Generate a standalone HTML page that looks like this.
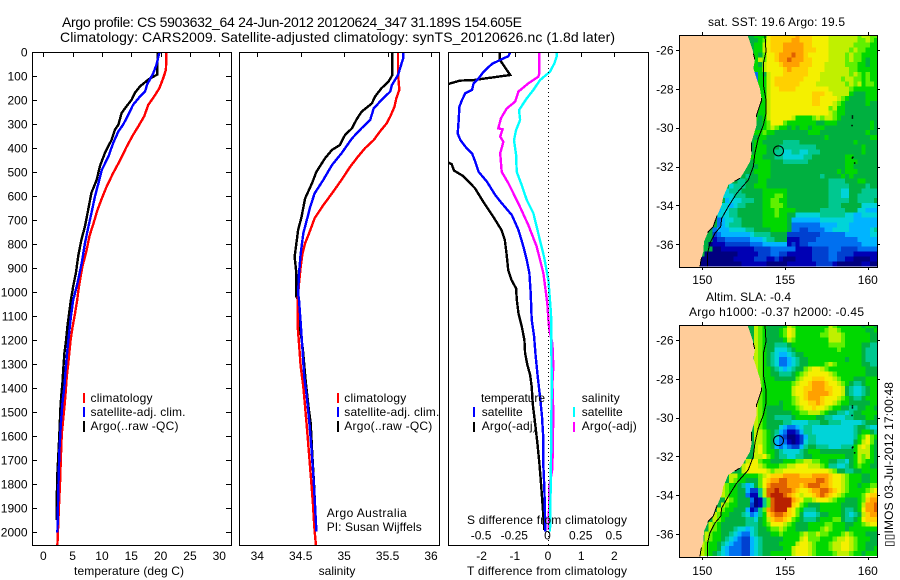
<!DOCTYPE html>
<html lang="en">
<head>
<meta charset="utf-8">
<title>Argo profile</title>
<style>
html,body{margin:0;padding:0;background:#fff}
svg{display:block;font-family:"Liberation Sans",sans-serif;font-size:12px;fill:#000}
text{fill:#000}
</style>
</head>
<body>
<svg id="figure" xmlns="http://www.w3.org/2000/svg" width="900" height="580" viewBox="0 0 900 580">
<defs>
<clipPath id="clip-temp"><rect x="32" y="52" width="200" height="493"/></clipPath>
<clipPath id="clip-sal"><rect x="239" y="52" width="201" height="493"/></clipPath>
<clipPath id="clip-diff"><rect x="448" y="52" width="201" height="493"/></clipPath>
<clipPath id="clip-map1"><rect x="679" y="35" width="198" height="232"/></clipPath>
<clipPath id="clip-map2"><rect x="679" y="325" width="198" height="232"/></clipPath>
</defs>
<rect width="900" height="580" fill="#fff"/>
<g id="plots"></g>
<text x="62" y="27" font-size="14" textLength="460">Argo profile: CS 5903632_64 24-Jun-2012 20120624_347 31.189S 154.605E</text>
<text x="60" y="42" font-size="14" textLength="555">Climatology: CARS2009. Satellite-adjusted climatology: synTS_20120626.nc (1.8d later)</text>
<text x="129" y="575" text-anchor="middle" textLength="110">temperature (deg C)</text>
<text x="337" y="575" text-anchor="middle">salinity</text>
<text x="547" y="575" text-anchor="middle" textLength="160">T difference from climatology</text>
<text x="547" y="524" text-anchor="middle" textLength="160">S difference from climatology</text>
<g>
<rect x="83" y="393" width="2" height="10" fill="#f00"/>
<rect x="83" y="407" width="2" height="10" fill="#00f"/>
<rect x="83" y="421" width="2" height="11" fill="#000"/>
<text x="90.5" y="402" textLength="62">climatology</text>
<text x="90.5" y="416" textLength="95">satellite-adj. clim.</text>
<text x="90.5" y="430" textLength="88">Argo(..raw -QC)</text>
</g>
<g>
<rect x="337" y="393" width="2" height="10" fill="#f00"/>
<rect x="337" y="407" width="2" height="10" fill="#00f"/>
<rect x="337" y="421" width="2" height="11" fill="#000"/>
<text x="344.3" y="402" textLength="62">climatology</text>
<text x="344.3" y="416" textLength="95">satellite-adj. clim.</text>
<text x="344.3" y="430" textLength="88">Argo(..raw -QC)</text>
<text x="326.7" y="517" textLength="80">Argo Australia</text>
<text x="326.7" y="531" textLength="95">PI: Susan Wijffels</text>
</g>
<g>
<text x="481" y="402" textLength="64">temperature</text>
<rect x="473" y="407" width="2" height="10" fill="#00f"/>
<rect x="473" y="422" width="2" height="10" fill="#000"/>
<text x="481.7" y="416" textLength="41">satellite</text>
<text x="481.7" y="430" textLength="55">Argo(-adj)</text>
<text x="581.7" y="402" textLength="38">salinity</text>
<rect x="573" y="407" width="2" height="10" fill="#0ff"/>
<rect x="573" y="422" width="2" height="10" fill="#f0f"/>
<text x="581.7" y="416" textLength="41">satellite</text>
<text x="581.7" y="430" textLength="55">Argo(-adj)</text>
</g>
<text x="776.5" y="26" text-anchor="middle" textLength="137">sat. SST: 19.6 Argo: 19.5</text>
<text x="748.5" y="301" text-anchor="middle" textLength="85">Altim. SLA: -0.4</text>
<text x="776.5" y="316" text-anchor="middle" textLength="175">Argo h1000: -0.37 h2000: -0.45</text>
<text transform="translate(893,547) rotate(-90)" textLength="165" style="font-family:'Liberation Sans','DejaVu Sans',sans-serif">▯▯IMOS 03-Jul-2012 17:00:48</text>
</svg>
<script>
// ---------- depth axis ----------
const depthTicks = [0,100,200,300,400,500,600,700,800,900,1000,1100,1200,1300,1400,1500,1600,1700,1800,1900,2000];
// ---------- temperature panel ----------
const tempTicks = [0,5,10,15,20,25,30];
const tempClimDepth = [0,75,108,150,185,220,268,310,345,395,450,505,560,615,660,710,765,835,890,950,990,1030,1090,1145,1200,1300,1350,1420,1480,1530,1590,1685,1800,1850,1960,2054];
const tempClimValues = [21,20.9,20.45,19.8,18.9,17.9,17.2,16.2,15.3,14.2,13.1,11.9,10.8,9.9,9.2,8.6,7.9,7.3,6.7,6.25,6,5.8,5.4,5,4.65,4.25,4,3.8,3.6,3.4,3.15,3,2.85,2.75,2.55,2.4];
const tempSatDepth = [0,53,88,108,136,164,185,220,261,303,331,380,436,492,547,603,672,726,796,879,949,990,1033,1103,1172,1240,1325,1395,1450,1547,1658,1825,2003];
const tempSatValues = [19.8,19.3,18.75,18.3,17.7,17.35,16.5,15.3,14.5,13.6,12.8,11.9,11.1,9.95,9.4,8.8,8.2,7.7,7.1,6.55,5.95,5.55,5.1,4.7,4.4,4.1,3.8,3.6,3.3,3,2.75,2.55,2.4];
const tempArgoDepth = [0,94,115,143,171,199,226,254,303,324,365,421,476,532,587,657,726,782,851,921,976,992,1033,1089,1144,1207,1255,1325,1380,1436,1492,1561,1658,1755,1853,1950];
const tempArgoValues = [19.5,19.4,17.9,16.5,15.6,15.05,14.2,13.35,12.8,12.2,11.65,10.5,9.65,9.1,8.2,7.65,7.1,6.5,5.95,5.55,5.1,5,4.7,4.4,4.1,3.85,3.6,3.4,3.25,3.05,2.9,2.8,2.6,2.4,2.3,2.3];
// ---------- salinity panel ----------
const salTicks = [34,34.5,35,35.5,36];
const salClimDepth = [0,89,158,193,228,269,297,332,367,401,436,478,533,589,638,693,742,797,839,894,964,1033,1144,1214,1311,1394,1478,1561,1672,1783,1880,1977,2055];
const salClimValues = [35.62,35.62,35.635,35.6,35.58,35.53,35.49,35.41,35.34,35.24,35.16,35.07,34.97,34.86,34.76,34.66,34.61,34.55,34.52,34.5,34.48,34.465,34.465,34.48,34.5,34.53,34.55,34.57,34.595,34.62,34.64,34.656,34.675];
const salSatDepth = [0,26,96,138,165,200,235,283,318,360,422,471,533,589,644,700,756,839,922,1006,1033,1130,1241,1352,1436,1547,1658,1797,1894,1998];
const salSatValues = [35.68,35.68,35.62,35.55,35.53,35.43,35.34,35.3,35.2,35.09,34.97,34.86,34.76,34.66,34.61,34.57,34.53,34.5,34.48,34.47,34.48,34.5,34.52,34.54,34.57,34.6,34.625,34.65,34.665,34.68];
const salArgoDepth = [0,96,124,151,186,214,249,283,318,346,388,408,443,499,547,610,686,742,797,853,922,1019,1033,1144,1241,1380,1478,1547,1686,1783,1894];
const salArgoValues = [35.555,35.555,35.51,35.43,35.355,35.32,35.2,35.14,35.09,35.01,34.95,34.86,34.78,34.68,34.63,34.55,34.51,34.47,34.45,34.43,34.45,34.45,34.47,34.49,34.525,34.56,34.59,34.615,34.635,34.65,34.665];
// ---------- difference panel ----------
const diffTicksT = [-2,-1,0,1,2];
const diffTicksS = [-0.5,-0.25,0,0.25,0.5];
const diffSLabels = ["-0.5","-0.25","0","0.25","0.5"];
const dTSatDepth = [0,17,33,50,82,110,131,158,172,200,228,283,339,367,394,422,457,499,540,596,631,679,742,811,867,922,1006,1116,1186,1269,1352,1436,1519,1616,1728,1811,1922,1998];
const dTSatValues = [-1.14,-1.19,-1.44,-1.69,-1.94,-2.09,-2.24,-2.29,-2.49,-2.59,-2.67,-2.69,-2.72,-2.64,-2.49,-2.29,-2.19,-2.09,-1.84,-1.59,-1.39,-1.09,-0.89,-0.74,-0.64,-0.56,-0.52,-0.49,-0.42,-0.37,-0.31,-0.24,-0.18,-0.14,-0.14,-0.11,-0.09,-0.08];
const dTArgoDepth = [0,33,96,117,119,133,200,300,400,461,467,494,517,568,624,686,742,783,839,908,950,985,1033,1089,1144,1200,1255,1304,1345,1394,1464,1547,1630,1714,1797,1894,1991];
const dTArgoValues = [-1.45,-1.45,-1.14,-2.25,-2.65,-3,-3.4,-3.6,-3.4,-3,-2.9,-2.83,-2.55,-2.2,-1.95,-1.65,-1.4,-1.3,-1.25,-1.2,-1.1,-0.96,-0.94,-0.89,-0.79,-0.71,-0.69,-0.62,-0.54,-0.49,-0.46,-0.39,-0.32,-0.26,-0.21,-0.16,-0.11];
const dSSatDepth = [0,19,47,82,117,158,193,242,283,325,367,429,499,554,617,672,756,853,950,1075,1103,1380,1658,1797,1998];
const dSSatValues = [0.065,0.065,0.048,0.015,-0.06,-0.11,-0.16,-0.218,-0.21,-0.24,-0.256,-0.24,-0.236,-0.198,-0.16,-0.11,-0.073,-0.03,0.003,0.02,0.023,0.028,0.023,0.02,0.015];
const dSArgoDepth = [0,89,103,131,165,207,235,276,318,322,353,374,422,499,547,631,721,811,922,1047,1116,1158,1214,1311,1380,1505,1734,1811,1991];
const dSArgoValues = [-0.065,-0.065,-0.073,-0.148,-0.223,-0.248,-0.31,-0.354,-0.374,-0.342,-0.36,-0.336,-0.36,-0.349,-0.298,-0.223,-0.148,-0.085,-0.035,-0.005,0.003,0.01,0.033,0.04,0.033,0.04,0.033,0.01,0.005];
// ---------- maps ----------
const lonTicks = [150,155,160];
const latTicks = [-26,-28,-30,-32,-34,-36];
const floatLon = 154.605;
const floatLat = -31.189;
const coastLon = [149.86,149.92,150.06,150.1,150.36,150.66,150.87,151.17,151.27,151.57,152.28,152.48,152.88,152.98,152.98,153.28,153.28,153.59,153.48,153.28,153.08,153.18,153.04,152.84,152.72];
const coastLat = [-37.15,-36.8,-36.38,-35.86,-35.35,-35.09,-34.58,-33.98,-33.55,-32.95,-32.6,-32.35,-31.75,-31.32,-30.72,-29.86,-29.34,-28.57,-27.97,-27.46,-26.94,-26.51,-26,-25.49,-25.23];
const isobathLon = [150.32,150.32,150.46,150.77,151.11,151.17,151.57,152.07,152.78,153.08,153.18,153.38,153.69,153.85,153.85,153.69,153.69,153.85,153.79];
const isobathLat = [-37.15,-36.46,-35.95,-35.43,-35.09,-34.66,-34.06,-33.38,-32.69,-32,-31.32,-30.55,-29.86,-29.26,-28.57,-27.8,-26.69,-26.09,-25.2];
const islandLon = [159.03,159.03,159.0,159.05,159.02,159.16];
const islandLat = [-29.36,-29.46,-29.85,-31.48,-31.52,-31.78];
const colorLevels = "0123456789abcdef";
const colorValues = ["#000080","#0000b4","#0040d0","#0070f0","#00b4ff","#00d4d8","#00c890","#00b040","#00d800","#60f000","#c0f000","#f4f000","#ffd000","#ffa000","#e06000","#b82000"];
const sstGrid = [
"888bccccccdcccbbbbaaaaaaa9aa99",
"789bcccccddcccbbbbaaaaaaa99a98",
"88abcccdddddccbbbbaaaaaa999988",
"88abcccdddddcccbbbaaaaa9a99888",
"879bbcdddeddcbbbbbaaaa9a998888",
"8a9bbcddedddccbbbbaaaa9a998788",
"87abbbcddddcccbbbaaaaa99988788",
"88abbbbcdccccbbbbaaaaaa9988888",
"387abbbccccccbbbaaaaaaa9a98988",
"388abcccccccbbbbaaaaa9aa998988",
"788abccccccbbbbaaaaaaa9a9a8998",
"788abbccccbbbbbbbbaaaaa9888888",
"888abbbbbbbbbbcccbbaaaa8777888",
"788abbbbbbbbbbccbbbba987777888",
"788abbbbbbbbbbccbbba9877777877",
"788abbbbbbbbbbbbbb9a8877777777",
"788abbbbbbbbbbbbbba98877777777",
"878abbbbba88889a9aa98777777777",
"7789bbb98888888778887777777787",
"7789a9887878878887777777777787",
"7889887777777788877777777777877",
"7788777777777777778777777777788",
"7887777766667777777777777877777",
"7888777666666666777777777778777",
"7888776655665566677777777778777",
"78887776655555667777777788777777",
"7888877766666677777777788877777",
"7788877777777777777777788777777",
"77888877777777777777778788877777",
"767788877777777777767777878777777",
"6677788777777777777777" + "6666" + "77788777",
"5666778887777777777777" + "77" + "66666" + "7777677",
"5566677777" .slice(1) + "888888" + "7777777777" + "66655" + "7776666",
"5556667777" + "888998" + "7777777777" + "66655" + "7766666",
"455566677" + "889988" + "7777777777" + "66666" + "7766667",
"5545667777" + "889998" + "7777777777" + "6667" + "77" + "775555",
"45566777777" + "888988" + "88777777" + "666666" + "77755444",
"455566777777" + "888988" + "77" + "555555" + "666666" + "55445555",
"34556677777" + "888888" + "7" + "4444444" + "55555555" + "444444",
"34566677777" + "888888" + "7" + "3333333" + "4444" + "5554" + "444444",
"344455556677" + "778888" + "7" + "3322333" + "344555" + "54444456",
"234444444566" + "667777" + "22222222" + "33333344" + "444455",
"122333333444" + "566777" + "11122223" + "33333333" + "344444",
"01112222223" + "33444444" + "12122333" + "33333333334444",
"0011111111222233333311112222333222233333",
"000000001111122233221111112222332222111111",
"0000000011111222112100011112222332211000011",
"00000000000111111000001111111222210000001100"
];
const slaGrid = [
"a9877778a988888888a98888887887",
"a9877789ba88888889aa9888888778",
"a9877789ba88888899aaa988888877",
"a9877778a988888888aaa988888877",
"a98776667888888888999988887766",
"a98775556788888888889888887666",
"a98765445677888888888888887666",
"a98765334567788888888878887666",
"a98765334567788889a98888887766",
"a98876545677" + "9abba" + "9888888888777",
"a988776667" + "89abbbbba9" + "8888888777",
"a988877777" + "9abbcccbba" + "9888777888",
"a98888888" + "9abbcdddcbba" + "987667888",
"a98888888" + "abbccdddccbb" + "a76556788",
"a98888888" + "abbcdddddcbb" + "a76556788",
"a98888888" + "9abcdddcbbba" + "987667888",
"a9888878" + "89abbccdcbba" + "9887777788",
"a9877778" + "889abbcbba9" + "88776677887",
"a9877777788" + "99aaa9" + "8776656778888",
"a98776666788888776655566777887",
"a98777766555566677666555556777",
"a98777543345665555555555677655",
"aa9876431124665555555555678876",
"aa9875" + "320012" + "466" + "555555555" + "689b98",
"aa9874" + "331012" + "566" + "555555555" + "78ab97",
"ab9874" + "343224" + "677" + "666555666" + "8aba87",
"ab9887" + "655556" + "788" + "877777777" + "8aaa87",
"aab9876655667788888888778a9a87",
"abb98877788899aa99887766578a9887",
"abbba988899aabbbaaa98665567898877",
"abbbbba9aabbbbbbbbbbba97766778888",
"aa888889abcccddddcccddddcbba98887788",
"a9887779bcddeedddddddeedcbba98887788",
"a988764579bdeeeedddcdeeeddcbba98878899",
"a98877422" + "6aeefeeedcbbcddeedcba988889ab",
"a98877311" + "6aefffedcbabbcdedcba988889bcc",
"a98777301" + "69effffdcb99abbba98877789cdd",
"a988777201" + "69effffcb987778888877778adde",
"a988777412" + "69defffcb9866678888876678bdde",
"a9887776534" + "68cdeedcb9755567788876567acdd",
"a9877777665" + "78acddcb98766678889976678bccc",
"a98777777666" + "789bbba9877788889988877889abb",
"a987776554" + "5677899a9887778889a988878888888",
"a9887765433" + "5677788988889a99a998889a9888777",
"a9887654322" + "456777778888ab9998889aaba988877",
"a98876543322" + "45677778888abba98889aabba988777",
"a98875433322" + "4567777788abbba98889aabba988778",
"a98765433322" + "4567788888abbba988889aaa9887888"
];
// ---------- scales ----------
const depthY = d => 52 + d * 0.24;
const tempX = t => 43.3 + t * 5.867;
const salX = s => 257.3 + (s - 34) * 86.85;
const diffX = t => 548 + t * 33.2;
const sDiffX = s => 548 + s * 4 * 33.2;
const lonX = lon => 702.3 + (lon - 150) * 16.55;
const latY1 = lat => 50 + (-26 - lat) * 19.43;
const latY2 = lat => 340 + (-26 - lat) * 19.4;

const NS = "http://www.w3.org/2000/svg";
const root = document.getElementById("plots");
function mk(parent, tag, attrs, txt) {
  const e = document.createElementNS(NS, tag);
  for (const k in attrs) e.setAttribute(k, attrs[k]);
  if (txt !== undefined) e.textContent = txt;
  parent.appendChild(e);
  return e;
}
function pts(xs, ys, fx, fy) {
  return xs.map((v, i) => fx(v).toFixed(1) + "," + fy(ys[i]).toFixed(1)).join(" ");
}
function series(parent, vals, depth, fx, color, width, name, clip) {
  const g = mk(parent, "g", {"clip-path": "url(#" + clip + ")"});
  const line = mk(g, "polyline", {points: pts(vals, depth, fx, depthY), fill: "none", stroke: color, "stroke-width": width, "shape-rendering": "crispEdges"});
  
  
}
function hline(p, x1, x2, y) { return mk(p, "line", {x1: x1, x2: x2, y1: y, y2: y, stroke: "#000", "stroke-width": 1, "shape-rendering": "crispEdges"}); }
function vline(p, x, y1, y2) { return mk(p, "line", {x1: x, x2: x, y1: y1, y2: y2, stroke: "#000", "stroke-width": 1, "shape-rendering": "crispEdges"}); }

function axesBox(p, l, r, t, b, name) {
  const box = mk(p, "rect", {x: l, y: t, width: r - l, height: b - t, fill: "none", stroke: "#000", "stroke-width": 1, "shape-rendering": "crispEdges"});
  
  
}

// ---------- temperature panel ----------
const pT = mk(root, "g", {});


series(pT, tempArgoValues, tempArgoDepth, tempX, "#000", 2.4, "temperature-argo-line", "clip-temp");
series(pT, tempClimValues, tempClimDepth, tempX, "#f00", 2.4, "temperature-climatology-line", "clip-temp");
series(pT, tempSatValues, tempSatDepth, tempX, "#00f", 2.4, "temperature-satellite-line", "clip-temp");
axesBox(pT, 32.5, 231.5, 52.5, 545.5, "temperature-axes-box");
tempTicks.forEach(t => {
  const x = Math.round(tempX(t)) + 0.5;
  const tick = vline(pT, x, 52, 57);
  
  
  const lab = mk(pT, "text", {x: tempX(t), y: 560, "text-anchor": "middle"}, String(t));
  
  
});
depthTicks.forEach(d => {
  const y = Math.round(depthY(d)) + 0.5;
  const t1 = hline(pT, 32, 37, y);
  
  
  const t2 = hline(pT, 226, 231, y);
  
  
  const lab = mk(pT, "text", {x: 27.5, y: depthY(d) + 4.5, "text-anchor": "end"}, String(d));
  
  
});

// ---------- salinity panel ----------
const pS = mk(root, "g", {});


series(pS, salArgoValues, salArgoDepth, salX, "#000", 2.4, "salinity-argo-line", "clip-sal");
series(pS, salClimValues, salClimDepth, salX, "#f00", 2.4, "salinity-climatology-line", "clip-sal");
series(pS, salSatValues, salSatDepth, salX, "#00f", 2.4, "salinity-satellite-line", "clip-sal");
axesBox(pS, 239.5, 439.5, 52.5, 545.5, "salinity-axes-box");
salTicks.forEach(s => {
  const tick = vline(pS, Math.round(salX(s)) + 0.5, 52, 57);
  
  
  const lab = mk(pS, "text", {x: salX(s), y: 560, "text-anchor": "middle"}, String(s));
  
  
});

// ---------- difference panel ----------
const pD = mk(root, "g", {});


series(pD, dSArgoValues, dSArgoDepth, sDiffX, "#f0f", 2.4, "s-difference-argo-line", "clip-diff");
series(pD, dSSatValues, dSSatDepth, sDiffX, "#0ff", 2.4, "s-difference-satellite-line", "clip-diff");
series(pD, dTArgoValues, dTArgoDepth, diffX, "#000", 2.4, "t-difference-argo-line", "clip-diff");
series(pD, dTSatValues, dTSatDepth, diffX, "#00f", 2.4, "t-difference-satellite-line", "clip-diff");
const zeroLine = mk(pD, "line", {x1: 548.5, x2: 548.5, y1: 52, y2: 545, stroke: "#000", "stroke-width": 1, "stroke-dasharray": "1 3", "shape-rendering": "crispEdges"});


axesBox(pD, 448.5, 648.5, 52.5, 545.5, "difference-axes-box");
diffTicksT.forEach(t => {
  const tick = vline(pD, Math.round(diffX(t)) + 0.5, 52, 57);
  
  
  const lab = mk(pD, "text", {x: diffX(t), y: 560, "text-anchor": "middle"}, String(t));
  
  
});
diffTicksS.forEach((s, i) => {
  const lab = mk(pD, "text", {x: sDiffX(s) - 0.5, y: 539.5, "text-anchor": "middle"}, diffSLabels[i]);
  
  
});

// ---------- maps ----------
function colorOf(ch) { return colorValues[colorLevels.indexOf(ch)]; }
function drawMap(name, grid, fy, top, bottom, clip, labelBase) {
  const g = mk(root, "g", {});
  
  
  const inner = mk(g, "g", {"clip-path": "url(#" + clip + ")"});
  grid.forEach((row, r) => {
    const s = row.padStart(48, "7").slice(-48);
    for (let c = 0; c < 48; c++) {
      const lon0 = 148.625 + c * 0.25, lat0 = -25.125 - r * 0.25;
      const cell = mk(inner, "rect", {x: lonX(lon0).toFixed(2), y: fy(lat0).toFixed(2), width: (0.25 * 16.55 + 0.4).toFixed(2), height: (0.25 * 19.43 + 0.4).toFixed(2), fill: colorOf(s[c]), "shape-rendering": "crispEdges"});
      
      
    }
  });
  const land = mk(inner, "polygon", {points: pts(coastLon, coastLat, lonX, fy) + " " + lonX(148) + "," + fy(-25.1) + " " + lonX(148) + "," + fy(-38) + " " + lonX(149.86) + "," + fy(-38), fill: "#ffcc99", "shape-rendering": "crispEdges"});
  
  
  const coast = mk(inner, "polyline", {points: pts(coastLon, coastLat, lonX, fy), fill: "none", stroke: "#000", "stroke-width": 1, "stroke-dasharray": "9 26 20 40 6 30", "shape-rendering": "crispEdges"});
  
  
  const iso = mk(inner, "polyline", {points: pts(isobathLon, isobathLat, lonX, fy), fill: "none", stroke: "#000", "stroke-width": 1, "shape-rendering": "crispEdges"});
  
  
  islandLon.forEach((lon, i) => {
    const dot = mk(inner, "rect", {x: lonX(lon).toFixed(1), y: fy(islandLat[i]).toFixed(1), width: 1.5, height: 1.5, fill: "#000"});
    
    
  });
  const marker = mk(inner, "circle", {cx: lonX(floatLon), cy: fy(floatLat), r: 5, fill: "none", stroke: "#000", "stroke-width": 1});
  
  
  axesBox(g, 679.5, 877.5, top + 0.5, bottom + 0.5, name + "-axes-box");
  lonTicks.forEach(lon => {
    const x = Math.round(lonX(lon)) + 0.5;
    const a = vline(g, x, top - 3, top);
    
    
    const b = vline(g, x, bottom, bottom + 3);
    
    
    const lab = mk(g, "text", {x: lonX(lon), y: labelBase, "text-anchor": "middle"}, String(lon));
    
    
  });
  latTicks.forEach(lat => {
    const y = Math.round(fy(lat)) + 0.5;
    const a = hline(g, 676, 679, y);
    
    
    const b = hline(g, 877, 880, y);
    
    
    const lab = mk(g, "text", {x: 673.5, y: fy(lat) + 4.5, "text-anchor": "end"}, String(lat));
    
    
  });
}
drawMap("sst-map", sstGrid, latY1, 35, 267, "clip-map1", 284);
drawMap("sla-map", slaGrid, latY2, 325, 557, "clip-map2", 575);
</script>
</body>
</html>
